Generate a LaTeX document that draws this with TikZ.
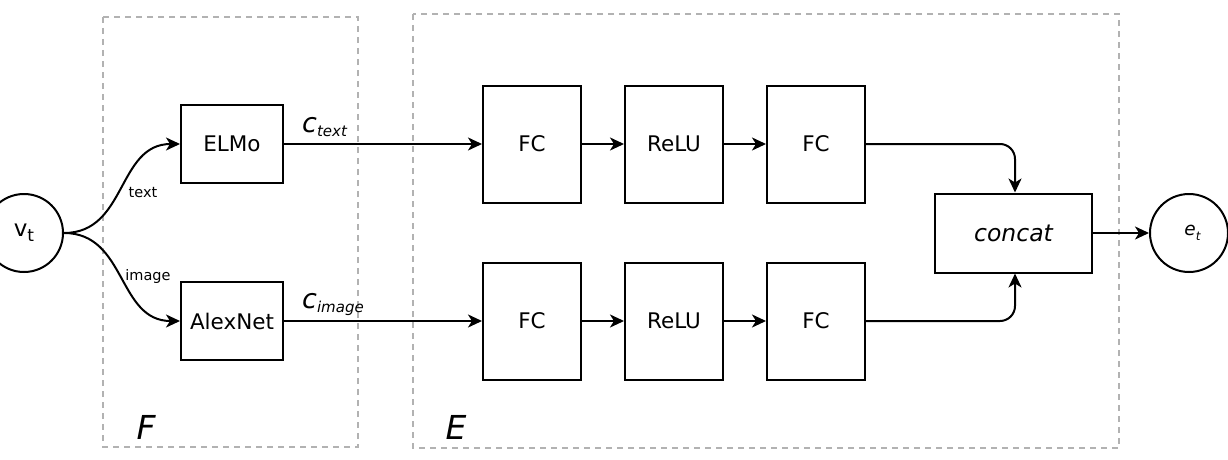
\documentclass[tikz,border=0pt]{standalone}
\usepackage{fontspec}
\setmainfont{DejaVu Sans}
\usetikzlibrary{arrows.meta}
\tikzset{
  blk/.style={draw, line width=2pt, inner sep=0pt, font=\fontsize{21.5}{24}\selectfont},
  grp/.style={draw=gray!60, line width=1.6pt, dash pattern=on 6pt off 5pt},
  arr/.style={line width=2pt, -{Stealth[length=14pt,width=13pt,inset=4pt]}},
  small/.style={font=\fontsize{14.5}{16}\selectfont, inner sep=0pt},
}
\newcommand{\subl}[2]{{\fontsize{27}{29}\selectfont\itshape #1}\raisebox{-4pt}{\fontsize{15}{17}\selectfont\itshape #2}}
\begin{document}
\begin{tikzpicture}[x=1pt,y=-1pt]
\useasboundingbox (0,0) rectangle (1228,460);
% group frames
\draw[grp] (103,17) rectangle (358,447);
\draw[grp] (413,14) rectangle (1119,448);
\node[font=\fontsize{33}{35}\selectfont\itshape] (F) at (146,427) {F};
\node[font=\fontsize{33}{35}\selectfont\itshape] (E) at (456,427) {E};
% nodes
\node[blk, circle, minimum size=78pt] (vt) at (24,233) {\fontsize{23}{25}\selectfont v\raisebox{-5pt}{\fontsize{17}{19}\selectfont t}};
\node[blk, minimum width=102pt, minimum height=78pt] (elmo) at (232,144) {ELMo};
\node[blk, minimum width=102pt, minimum height=78pt] (alex) at (232,321) {AlexNet};
\node[blk, minimum width=98pt, minimum height=117pt] (fc1t) at (532,144) {FC};
\node[blk, minimum width=98pt, minimum height=117pt] (relut) at (674,144) {ReLU};
\node[blk, minimum width=98pt, minimum height=117pt] (fc2t) at (816,144) {FC};
\node[blk, minimum width=98pt, minimum height=117pt] (fc1b) at (532,321) {FC};
\node[blk, minimum width=98pt, minimum height=117pt] (relub) at (674,321) {ReLU};
\node[blk, minimum width=98pt, minimum height=117pt] (fc2b) at (816,321) {FC};
\node[blk, minimum width=157pt, minimum height=79pt, font=\fontsize{23.5}{25}\selectfont\itshape] (concat) at (1013.5,233) {concat};
\node[blk, circle, minimum size=78pt] (et) at (1189,233) {\hspace*{7pt}\raisebox{-3pt}{\fontsize{18.5}{21}\selectfont\itshape e\raisebox{-5pt}{\fontsize{12}{14}\selectfont t}}};
% labels
\node[small] (ltext) at (143,193) {text};
\node[small] (limage) at (148,276) {image};
\node[inner sep=0pt, anchor=base west] (ct) at (302,132) {\subl{c}{text}};
\node[inner sep=0pt, anchor=base west] (ci) at (302,308) {\subl{c}{image}};
% connectors
\draw[arr] (vt.east) to[out=0,in=180,looseness=1.1] (elmo.west);
\draw[arr] (vt.east) to[out=0,in=180,looseness=1.1] (alex.west);
\draw[arr] (elmo.east) -- (fc1t.west);
\draw[arr] (alex.east) -- (fc1b.west);
\draw[arr] (fc1t) -- (relut);
\draw[arr] (relut) -- (fc2t);
\draw[arr] (fc1b) -- (relub);
\draw[arr] (relub) -- (fc2b);
\draw[arr, rounded corners=15pt] (fc2t.east) -| ([xshift=1.5pt]concat.north);
\draw[arr, rounded corners=15pt] (fc2b.east) -| ([xshift=1.5pt]concat.south);
\draw[arr] (concat) -- (et);
\end{tikzpicture}
\end{document}
